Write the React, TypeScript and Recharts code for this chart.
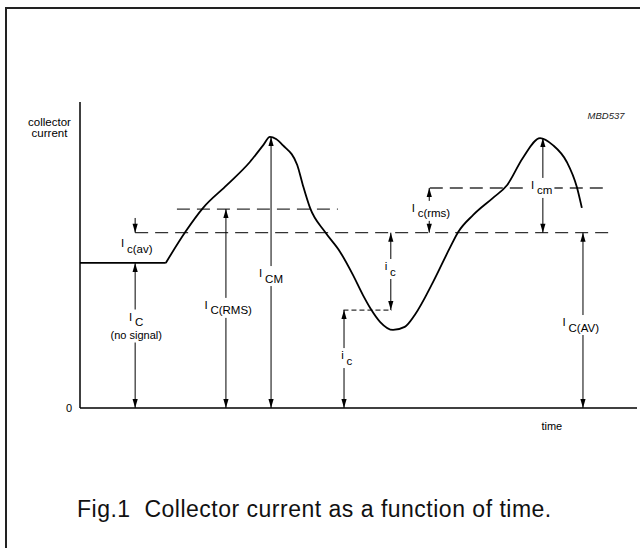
import { ComposedChart, Line, ReferenceDot, ReferenceLine, XAxis, YAxis } from "recharts";

const FONT = '"Liberation Sans", Arial, Helvetica, sans-serif';
const TAG_SIZE = 11.5;

// collector current trace, both axes read as 0..100 of the plotted range
const TRACE_TIME = [
  15.4, 18.9, 22.1, 26.4, 30.5, 32.9, 34.1, 35.2, 36.4, 39.0, 40.0, 41.3, 44.0, 46.7, 49.0, 50.8, 52.1,
  53.9, 56.2, 58.3, 60.1, 63.4, 66.4, 67.9, 70.6, 74.1, 76.7, 79.5, 82.6, 84.9, 87.4, 89.2, 90.1,
];
const TRACE_CURRENT = [
  47.4, 57.5, 65.4, 72.9, 80.4, 85.9, 88.6, 87.9, 85.9, 79.4, 72.9, 65.4, 57.5, 51.0, 43.5, 36.9, 32.7,
  28.1, 25.5, 26.5, 30.4, 41.2, 52.3, 57.5, 63.1, 68.6, 72.9, 81.7, 88.2, 85.9, 80.4, 72.2, 65.4,
];

// no-signal part before the signal starts
const QUIESCENT_TIME = [0, 15.4];
const QUIESCENT_CURRENT = [47.4, 47.4];

const Y_TICKS = [0];
const X_TICKS = [84.7];

const I_Q = 47.4;
const I_AV = 57.3;
const I_RMS = 65.0;
const I_RMS_AC = 71.9;
const I_DIP = 32.0;
const I_PEAK = 88.6;
const I_PEAK2 = 88.2;

const LEVELS = [
  { from: 9.9, to: 95.2, level: I_AV, fine: false },
  { from: 17.4, to: 46.3, level: I_RMS, fine: false },
  { from: 62.8, to: 93.9, level: I_RMS_AC, fine: false },
  { from: 47.3, to: 56.0, level: I_DIP, fine: true },
];

const ARROWS = [
  { t: 9.9, from: 62.1, to: I_AV, both: false },
  { t: 9.9, from: I_Q, to: 0, both: true },
  { t: 26.2, from: I_RMS, to: 0, both: true },
  { t: 34.3, from: I_PEAK, to: 0, both: true },
  { t: 47.4, from: I_DIP, to: 0, both: true },
  { t: 55.8, from: I_AV, to: I_DIP, both: true },
  { t: 62.7, from: I_RMS_AC, to: I_AV, both: true },
  { t: 83.1, from: I_PEAK2, to: I_AV, both: true },
  { t: 90.3, from: I_AV, to: 0, both: true },
];

const TAGS = [
  { t: 10.2, i: 53.9, main: "I", sub: "c(av)", note: "" },
  { t: 10.1, i: 29.9, main: "I", sub: "C", note: "(no signal)" },
  { t: 26.6, i: 33.7, main: "I", sub: "C(RMS)", note: "" },
  { t: 34.3, i: 44.1, main: "I", sub: "CM", note: "" },
  { t: 47.9, i: 17.3, main: "i", sub: "c", note: "" },
  { t: 55.7, i: 46.4, main: "i", sub: "c", note: "" },
  { t: 63.0, i: 65.4, main: "I", sub: "c(rms)", note: "" },
  { t: 82.9, i: 72.9, main: "I", sub: "cm", note: "" },
  { t: 89.9, i: 28.1, main: "I", sub: "C(AV)", note: "" },
];

const trace = TRACE_TIME.map((t, k) => ({ t, i: TRACE_CURRENT[k] }));
const quiescent = QUIESCENT_TIME.map((t, k) => ({ t, i: QUIESCENT_CURRENT[k] }));

let measureCtx: CanvasRenderingContext2D | null = null;
function textWidth(s: string, size: number): number {
  if (!measureCtx) measureCtx = document.createElement("canvas").getContext("2d");
  if (!measureCtx) return s.length * size * 0.55;
  measureCtx.font = `${size}px ${FONT}`;
  return measureCtx.measureText(s).width;
}

function arrowHead(x: number, tip: number, other: number) {
  const s = tip > other ? 1 : -1;
  const base = tip - s * 9;
  return <polygon points={`${x},${tip} ${x - 2.6},${base} ${x + 2.6},${base}`} fill="#000" />;
}

function ArrowGlyph(props: any) {
  const { x1, y1, x2, y2, both } = props;
  return (
    <g>
      <line x1={x1} y1={y1} x2={x2} y2={y2} stroke="#000" strokeWidth={1} />
      {arrowHead(x2, y2, y1)}
      {both && arrowHead(x1, y1, y2)}
    </g>
  );
}

function TagGlyph(props: any) {
  const { cx, cy, tag } = props;
  const gap = 2.8;
  const w = textWidth(tag.main, TAG_SIZE) + gap + textWidth(tag.sub, TAG_SIZE);
  const noteW = tag.note ? textWidth(tag.note, 11) : 0;
  const boxW = Math.max(w, noteW) + 4;
  const top = cy - 7;
  const bottom = tag.note ? cy + 26 : cy + 13;
  return (
    <g>
      <rect x={cx - boxW / 2} y={top} width={boxW} height={bottom - top} fill="#fff" />
      <text x={cx - w / 2} y={cy + 4} fontSize={TAG_SIZE} fontFamily={FONT} fill="#000">
        <tspan>{tag.main}</tspan>
        <tspan dx={gap} dy={5.5}>
          {tag.sub}
        </tspan>
      </text>
      {tag.note && (
        <text x={cx} y={cy + 22.5} textAnchor="middle" fontSize={11} fontFamily={FONT} fill="#000">
          {tag.note}
        </text>
      )}
    </g>
  );
}

function AxisTitle(props: any) {
  const vb = props.viewBox ?? { x: 0, y: 102 };
  const x = vb.x + 49.5;
  return (
    <text textAnchor="middle" fontSize={11.5} fontFamily={FONT} fill="#000">
      <tspan x={x} y={vb.y + 24}>
        collector
      </tspan>
      <tspan x={x} y={vb.y + 35}>
        current
      </tspan>
    </text>
  );
}

export default function App() {
  return (
    <div
      style={{
        position: "absolute",
        left: 0,
        top: 0,
        width: 640,
        height: 548,
        background: "#fff",
        overflow: "hidden",
      }}
    >
      <div
        style={{
          position: "absolute",
          left: 5,
          top: 7,
          width: 700,
          height: 700,
          borderTop: "2px solid #222",
          borderLeft: "2px solid #222",
        }}
      />
      <div style={{ position: "absolute", left: 0, top: 0 }}>
        <ComposedChart width={640} height={548} margin={{ top: 102, right: 3, bottom: 110, left: 0 }}>
          <XAxis
            type="number"
            dataKey="t"
            domain={[0, 100]}
            ticks={X_TICKS}
            tickFormatter={() => "time"}
            tickLine={false}
            tickSize={6}
            tickMargin={8}
            height={30}
            axisLine={{ stroke: "#000", strokeWidth: 1.5 }}
            tick={{ fontSize: 11, fill: "#000", fontFamily: FONT }}
          />
          <YAxis
            type="number"
            domain={[0, 100]}
            ticks={Y_TICKS}
            width={80}
            tickLine={false}
            tickSize={6}
            tickMargin={2}
            axisLine={{ stroke: "#000", strokeWidth: 1.5 }}
            tick={{ fontSize: 11, fill: "#000", fontFamily: FONT }}
            label={{ content: AxisTitle }}
          />
          {LEVELS.map((l, k) => (
            <ReferenceLine
              key={`lvl${k}`}
              segment={[
                { x: l.from, y: l.level },
                { x: l.to, y: l.level },
              ]}
              stroke="#333"
              strokeWidth={1.3}
              strokeDasharray={l.fine ? "5 3" : "13 7"}
            />
          ))}
          <Line
            data={quiescent}
            dataKey="i"
            type="linear"
            stroke="#000"
            strokeWidth={1.8}
            dot={false}
            activeDot={false}
            isAnimationActive={false}
          />
          <Line
            data={trace}
            dataKey="i"
            type="monotone"
            stroke="#000"
            strokeWidth={1.8}
            dot={false}
            activeDot={false}
            isAnimationActive={false}
          />
          {ARROWS.map((a, k) => (
            <ReferenceLine
              key={`arr${k}`}
              segment={[
                { x: a.t, y: a.from },
                { x: a.t, y: a.to },
              ]}
              shape={(p: any) => <ArrowGlyph {...p} both={a.both} />}
            />
          ))}
          {TAGS.map((tag, k) => (
            <ReferenceDot
              key={`tag${k}`}
              x={tag.t}
              y={tag.i}
              r={0}
              shape={(p: any) => <TagGlyph {...p} tag={tag} />}
            />
          ))}
        </ComposedChart>
      </div>
      <div
        style={{
          position: "absolute",
          left: 586,
          top: 111,
          width: 40,
          textAlign: "center",
          fontFamily: FONT,
          fontStyle: "italic",
          fontSize: 9.5,
          lineHeight: 1,
          color: "#222",
        }}
      >
        MBD537
      </div>
      <div
        style={{
          position: "absolute",
          left: 77,
          top: 498,
          fontFamily: FONT,
          fontSize: 23,
          lineHeight: 1,
          letterSpacing: 0.5,
          whiteSpace: "pre",
          color: "#111",
        }}
      >
        {"Fig.1  Collector current as a function of time."}
      </div>
    </div>
  );
}
